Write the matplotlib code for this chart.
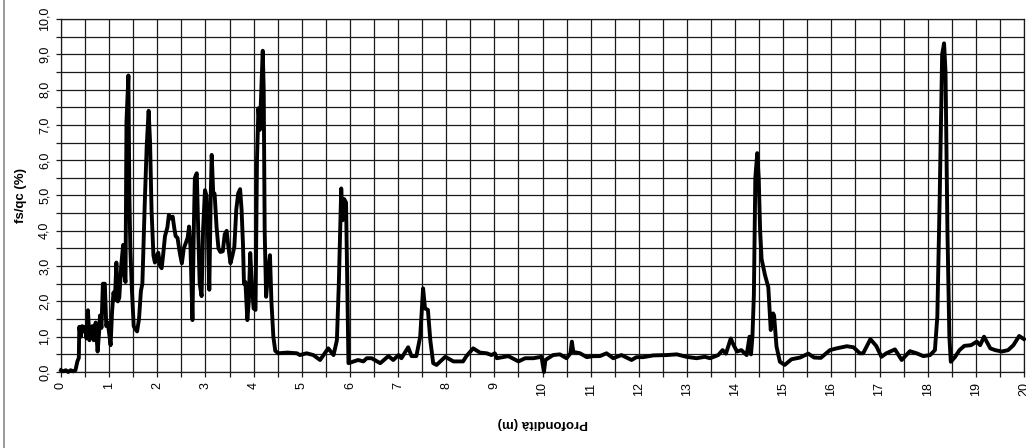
import numpy as np
import matplotlib
matplotlib.use("Agg")
import matplotlib.pyplot as plt
from matplotlib.ticker import MultipleLocator, FuncFormatter
from matplotlib.lines import Line2D

plt.rcParams['font.family'] = ['Liberation Sans', 'DejaVu Sans']

# profondita (m) and fs/qc (%)
depth = [0.00, 0.05, 0.10, 0.15, 0.20, 0.25, 0.30, 0.34, 0.37, 0.38, 0.41, 0.44,
         0.47, 0.50, 0.53, 0.56, 0.59, 0.62, 0.65, 0.68, 0.72, 0.76, 0.79, 0.81,
         0.84, 0.87, 0.91, 0.94, 0.97, 1.00, 1.03, 1.06, 1.09, 1.12, 1.15, 1.18,
         1.21, 1.25, 1.29, 1.31, 1.34, 1.36, 1.40, 1.42, 1.44, 1.47, 1.51, 1.54,
         1.58, 1.62, 1.66, 1.69, 1.74, 1.78, 1.82, 1.85, 1.88, 1.92, 1.95, 1.99,
         2.02, 2.06, 2.09, 2.12, 2.16, 2.21, 2.24, 2.28, 2.32, 2.35, 2.38, 2.42,
         2.47, 2.51, 2.55, 2.59, 2.63, 2.66, 2.69, 2.73, 2.76, 2.78, 2.82, 2.85,
         2.88, 2.92, 2.95, 2.99, 3.02, 3.05, 3.08, 3.11, 3.13, 3.16, 3.19, 3.23,
         3.27, 3.31, 3.36, 3.40, 3.44, 3.48, 3.52, 3.56, 3.60, 3.64, 3.68, 3.72,
         3.75, 3.78, 3.80, 3.83, 3.87, 3.90, 3.93, 3.96, 4.00, 4.04, 4.07, 4.10,
         4.13, 4.16, 4.19, 4.21, 4.23, 4.26, 4.30, 4.34, 4.37, 4.41, 4.45, 4.51,
         4.70, 4.90, 4.96, 5.10, 5.24, 5.38, 5.55, 5.66, 5.73, 5.77, 5.82, 5.85,
         5.88, 5.92, 5.97, 6.08, 6.17, 6.28, 6.35, 6.45, 6.63, 6.80, 6.90, 7.01,
         7.07, 7.21, 7.28, 7.38, 7.46, 7.52, 7.56, 7.62, 7.67, 7.73, 7.80, 7.98,
         8.15, 8.35, 8.42, 8.56, 8.70, 8.84, 8.94, 9.01, 9.05, 9.29, 9.50, 9.64,
         9.81, 9.98, 10.03, 10.06, 10.22, 10.36, 10.50, 10.58, 10.61, 10.64, 10.78,
         10.92, 11.06, 11.19, 11.33, 11.47, 11.64, 11.85, 11.95, 12.09, 12.30,
         12.58, 12.79, 12.99, 13.20, 13.37, 13.48, 13.65, 13.74, 13.81, 13.91,
         13.97, 14.04, 14.13, 14.24, 14.30, 14.33, 14.36, 14.39, 14.42, 14.46,
         14.49, 14.52, 14.55, 14.62, 14.69, 14.74, 14.79, 14.81, 14.86, 14.93,
         15.03, 15.17, 15.35, 15.52, 15.64, 15.78, 15.97, 16.11, 16.32, 16.46,
         16.59, 16.66, 16.81, 16.93, 17.04, 17.14, 17.32, 17.46, 17.63, 17.77,
         17.91, 18.05, 18.15, 18.20, 18.25, 18.30, 18.34, 18.37, 18.41, 18.45,
         18.48, 18.57, 18.66, 18.76, 18.90, 19.02, 19.09, 19.17, 19.30, 19.40,
         19.54, 19.67, 19.78, 19.90, 20.00]
fs_qc = [0.05, 0.02, 0.05, 0.00, 0.05, 0.02, 0.05, 0.30, 0.40, 1.28, 1.00, 1.30,
         1.15, 1.28, 0.95, 1.75, 0.90, 1.25, 1.30, 0.90, 1.40, 0.58, 1.10, 1.60,
         1.25, 2.50, 2.50, 1.30, 1.40, 1.10, 0.76, 1.70, 2.25, 2.05, 3.10, 2.00,
         2.10, 3.00, 3.60, 2.80, 2.55, 7.10, 8.40, 5.00, 3.50, 2.40, 1.30, 1.22,
         1.15, 1.50, 2.30, 2.50, 4.80, 6.40, 7.40, 6.50, 4.60, 3.30, 3.10, 3.30,
         3.38, 3.00, 2.94, 3.30, 3.85, 4.10, 4.45, 4.35, 4.40, 4.10, 3.85, 3.80,
         3.35, 3.08, 3.50, 3.65, 3.80, 4.12, 3.50, 1.47, 4.20, 5.50, 5.63, 4.00,
         2.50, 2.15, 4.00, 5.15, 5.00, 4.00, 2.33, 5.00, 6.15, 5.10, 5.05, 4.12,
         3.50, 3.40, 3.42, 3.90, 4.00, 3.50, 3.08, 3.30, 3.55, 4.60, 5.06, 5.18,
         4.60, 3.60, 2.50, 2.55, 1.47, 2.00, 3.37, 2.60, 1.80, 1.76, 6.00, 7.47,
         6.86, 8.00, 9.10, 8.00, 4.00, 2.13, 2.80, 3.31, 2.00, 1.00, 0.60, 0.53,
         0.55, 0.53, 0.48, 0.53, 0.48, 0.34, 0.67, 0.48, 0.90, 2.50, 5.20, 4.30,
         4.90, 4.80, 0.25, 0.30, 0.34, 0.30, 0.39, 0.39, 0.25, 0.45, 0.34, 0.48,
         0.39, 0.70, 0.45, 0.45, 1.00, 2.37, 1.80, 1.76, 0.90, 0.25, 0.20, 0.43,
         0.30, 0.30, 0.45, 0.67, 0.55, 0.53, 0.48, 0.53, 0.39, 0.45, 0.30, 0.39,
         0.39, 0.43, 0.00, 0.34, 0.48, 0.50, 0.39, 0.53, 0.86, 0.57, 0.53,
         0.42, 0.45, 0.45, 0.53, 0.39, 0.48, 0.34, 0.42, 0.42, 0.47,
         0.48, 0.50, 0.43, 0.39, 0.43, 0.39, 0.48, 0.62, 0.52, 0.95,
         0.76, 0.58, 0.62, 0.48, 1.00, 0.50, 1.00, 2.20, 5.50, 6.20,
         5.50, 4.00, 3.20, 2.75, 2.40, 1.19, 1.66, 1.60, 0.72, 0.29,
         0.20, 0.36, 0.41, 0.52, 0.41, 0.40, 0.62, 0.67, 0.73, 0.70,
         0.53, 0.53, 0.93, 0.74, 0.43, 0.53, 0.64, 0.34, 0.59, 0.53,
         0.45, 0.48, 0.62, 1.57, 5.00, 9.00, 9.31, 8.50, 4.00, 1.00,
         0.29, 0.43, 0.62, 0.74, 0.76, 0.86, 0.76, 1.00, 0.67, 0.62,
         0.58, 0.62, 0.76, 1.02, 0.93]

fig = plt.figure(figsize=(10.26, 4.48), dpi=100)
ax = fig.add_axes([61 / 1026, 1 - 372 / 448, (1024 - 61) / 1026, (372 - 19) / 448])

ax.plot(depth, fs_qc, color='black', lw=2.8, solid_joinstyle='round', zorder=3, clip_on=False)

ax.set_xlim(0, 20)
ax.set_ylim(0, 10)
ax.xaxis.set_major_locator(MultipleLocator(1))
ax.xaxis.set_minor_locator(MultipleLocator(0.5))
ax.yaxis.set_major_locator(MultipleLocator(1))
ax.yaxis.set_minor_locator(MultipleLocator(0.5))
ax.yaxis.set_major_formatter(FuncFormatter(lambda v, p: ('%.1f' % v).replace('.', ',')))
ax.xaxis.set_major_formatter(FuncFormatter(lambda v, p: '%d' % v))

ax.grid(True, which='both', color='#1a1a1a', lw=0.9)
ax.set_axisbelow(True)
for s in ax.spines.values():
    s.set_color('#1a1a1a')
    s.set_linewidth(0.9)

ax.tick_params(which='both', direction='out', length=3.5, width=0.9, color='#1a1a1a')
ax.tick_params(axis='x', labelrotation=90, labelsize=9, pad=4)
ax.tick_params(axis='y', labelrotation=90, labelsize=9, pad=4)
for lab in ax.get_yticklabels():
    lab.set_va('center')

ax.set_xlabel('Profondità (m)', fontsize=9.5, fontweight='bold', rotation=180, labelpad=15)
ax.set_ylabel('fs/qc (%)', fontsize=9.5, fontweight='bold', labelpad=8)

fig.add_artist(Line2D([4 / 1026, 4 / 1026], [0, 1], color='#888888', lw=1.2))

fig.savefig('out.png', dpi=100)
